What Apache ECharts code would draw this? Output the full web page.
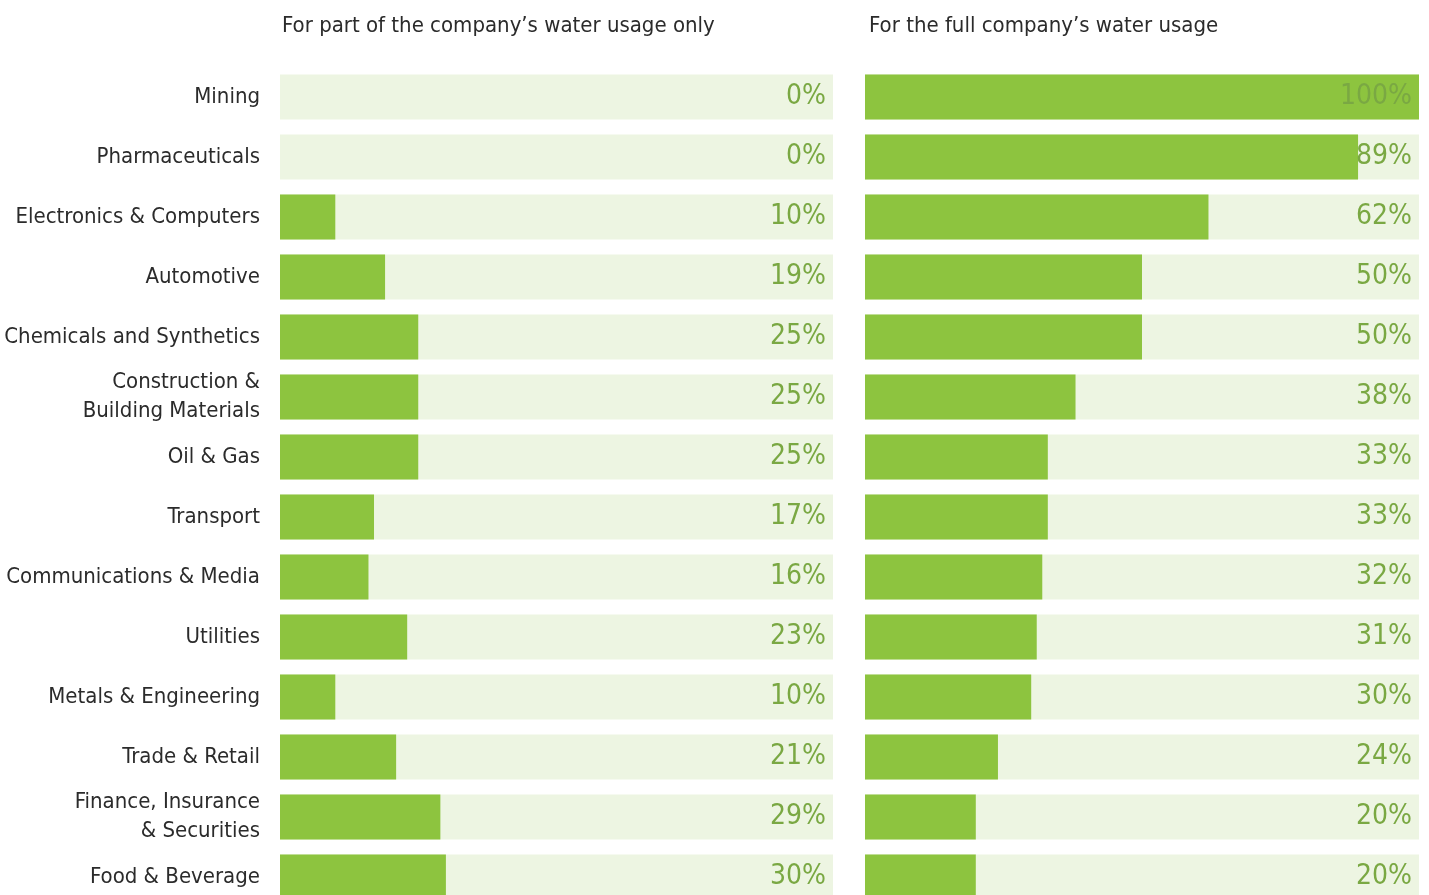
<!DOCTYPE html>
<html>
<head>
<meta charset="utf-8">
<script src="https://cdn.jsdelivr.net/npm/echarts@6/dist/echarts.min.js"></script>
<style>
html,body{margin:0;padding:0;background:#fff;}
#chart{width:1429px;height:895px;}
</style>
</head>
<body>
<div id="chart"></div>
<script>
const categories = [
  "Mining", "Pharmaceuticals", "Electronics & Computers", "Automotive",
  "Chemicals and Synthetics", "Construction &\nBuilding Materials", "Oil & Gas",
  "Transport", "Communications & Media", "Utilities", "Metals & Engineering",
  "Trade & Retail", "Finance, Insurance\n& Securities", "Food & Beverage"
];
const partUsage = [0, 0, 10, 19, 25, 25, 25, 17, 16, 23, 10, 21, 29, 30];
const fullUsage = [100, 89, 62, 50, 50, 38, 33, 33, 32, 31, 30, 24, 20, 20];
const panelTitles = ["For part of the company\u2019s water usage only", "For the full company\u2019s water usage"];

const FONT = '"Liberation Sans Narrow", "DejaVu Sans Condensed", "Roboto", sans-serif';
const BAR = '#8dc43f';
const BG = '#edf5e2';
const VAL = '#7aa843';

const chart = echarts.init(document.getElementById('chart'), null, {renderer: 'canvas'});

function panelSeries(idx, data) {
  return [
    {
      type: 'bar', xAxisIndex: idx, yAxisIndex: idx, silent: true,
      data: data.map(() => 100), barWidth: 45, barGap: '-100%',
      itemStyle: {color: BG}, z: 1, animation: false
    },
    {
      type: 'bar', xAxisIndex: idx, yAxisIndex: idx, silent: true,
      data: data, barWidth: 45, barGap: '-100%',
      itemStyle: {color: BAR}, z: 2, animation: false
    },
    {
      type: 'bar', xAxisIndex: idx, yAxisIndex: idx, silent: true,
      data: data.map(() => 100), barWidth: 45, barGap: '-100%',
      itemStyle: {color: 'rgba(0,0,0,0)'}, z: 3, animation: false,
      label: {
        show: true, position: 'insideRight', distance: 7,
        formatter: p => data[p.dataIndex] + '%',
        fontFamily: FONT, fontSize: 28, color: VAL, padding: [3, 0, 0, 0]
      }
    }
  ];
}

const option = {
  animation: false,
  title: [
    {text: panelTitles[0], left: 277, top: 10, textStyle: {fontFamily: FONT, fontSize: 22, fontWeight: 'normal', color: '#2b2b2b'}},
    {text: panelTitles[1], left: 864, top: 10, textStyle: {fontFamily: FONT, fontSize: 22, fontWeight: 'normal', color: '#2b2b2b'}}
  ],
  grid: [
    {left: 280, width: 553, top: 67, height: 840, outerBoundsMode: 'none', containLabel: false},
    {left: 865, width: 554, top: 67, height: 840, outerBoundsMode: 'none', containLabel: false}
  ],
  xAxis: [0, 1].map(i => ({
    type: 'value', gridIndex: i, min: 0, max: 100, show: false
  })),
  yAxis: [0, 1].map(i => ({
    type: 'category', gridIndex: i, data: categories, inverse: true,
    axisLine: {show: false}, axisTick: {show: false}, splitLine: {show: false},
    axisLabel: {
      show: i === 0, margin: 20, fontFamily: FONT, fontSize: 22, color: '#2b2b2b',
      lineHeight: 29, align: 'right', padding: [6, 0, 0, 0]
    }
  })),
  series: [...panelSeries(0, partUsage), ...panelSeries(1, fullUsage)]
};
chart.setOption(option);
</script>
</body>
</html>
